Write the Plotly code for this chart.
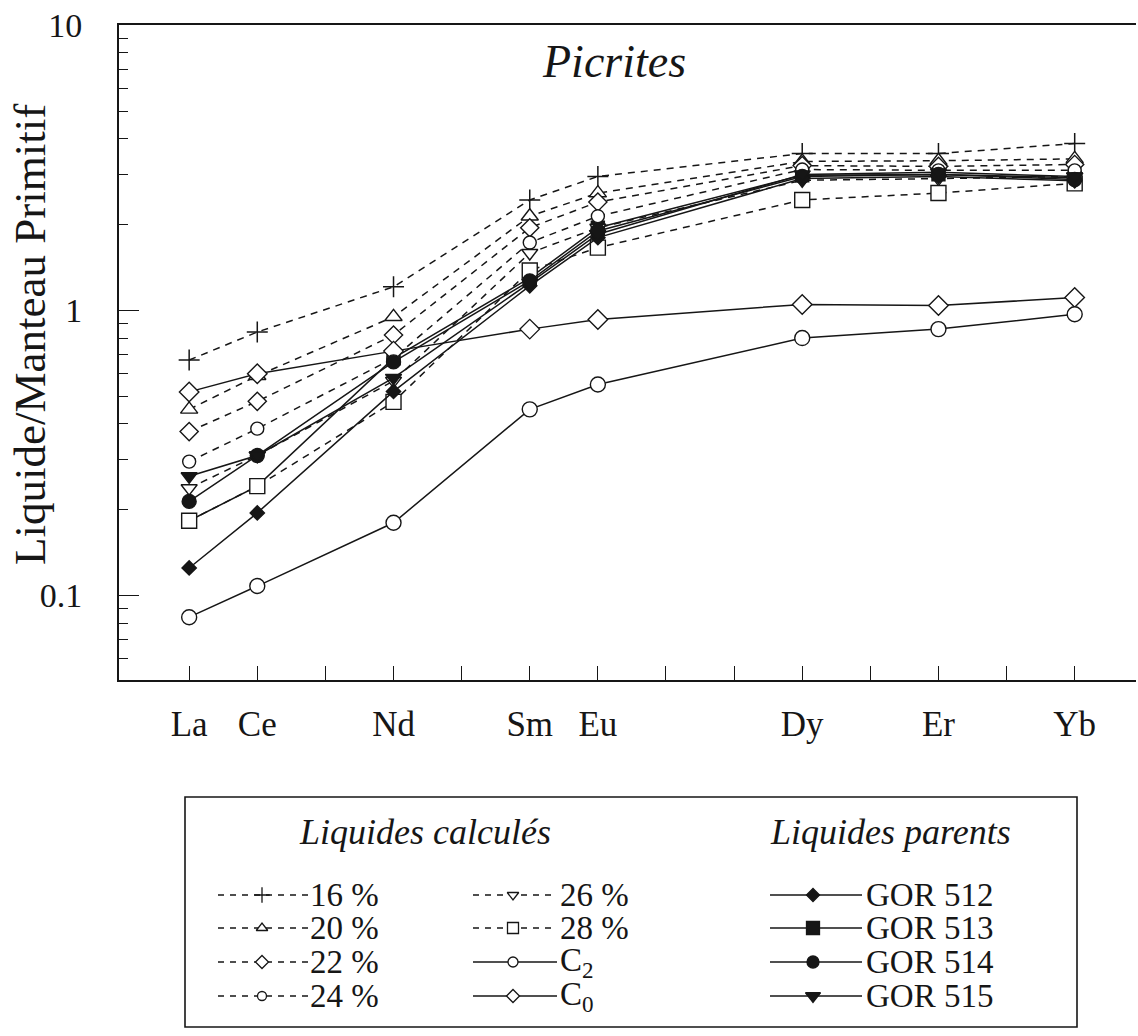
import plotly.graph_objects as go

# ---------------- data ----------------
ree_all = ["La", "Ce", "Pr", "Nd", "Pm", "Sm", "Eu", "Gd", "Tb", "Dy", "Ho", "Er", "Tm", "Yb"]
elements = ["La", "Ce", "Nd", "Sm", "Eu", "Dy", "Er", "Yb"]

calc_16 = [0.67, 0.84, 1.21, 2.44, 2.95, 3.55, 3.55, 3.85]
calc_20 = [0.45, 0.59, 0.95, 2.14, 2.58, 3.33, 3.35, 3.40]
calc_22 = [0.376, 0.48, 0.82, 1.95, 2.40, 3.22, 3.20, 3.25]
calc_24 = [0.295, 0.385, 0.68, 1.73, 2.14, 3.12, 3.10, 3.10]
calc_26 = [0.238, 0.31, 0.566, 1.59, 1.95, 2.86, 2.90, 2.95]
calc_28 = [0.183, 0.242, 0.478, 1.38, 1.66, 2.44, 2.58, 2.79]
c2 = [0.084, 0.108, 0.18, 0.45, 0.55, 0.80, 0.86, 0.97]
c0 = [0.518, 0.60, 0.72, 0.86, 0.93, 1.05, 1.04, 1.11]
gor512 = [0.125, 0.195, 0.52, 1.22, 1.80, 2.90, 2.95, 2.85]
gor513 = [0.183, 0.242, 0.68, 1.30, 1.95, 2.98, 3.00, 2.92]
gor514 = [0.214, 0.31, 0.66, 1.27, 1.90, 2.95, 3.00, 2.88]
gor515 = [0.262, 0.31, 0.58, 1.25, 1.85, 3.00, 3.05, 2.95]

y_major = [0.1, 1, 10]
y_major_text = ["0.1", "1", "10"]

legend_calc = ["16 %", "20 %", "22 %", "24 %", "26 %", "28 %", "C<sub>2</sub>", "C<sub>0</sub>"]
legend_parent = ["GOR 512", "GOR 513", "GOR 514", "GOR 515"]

# ---------------- geometry helpers ----------------
W, H = 1138, 1036
L, R, T, B = 119, 1136, 25, 1034


def xd(px):
    return (px - L) / (R - L)


def yd(py):
    return (B - py) / (B - T)


xpos = [ree_all.index(e) for e in elements]
other_pos = [i for i, e in enumerate(ree_all) if e not in elements]
INK = "#161616"
FONT = "Liberation Serif"
DASH = "7px,6px"

fig = go.Figure()


def add_series(vals, symbol, size, fill, dashed, lw=1.5, mlw=1.4):
    fig.add_trace(go.Scatter(
        x=xpos, y=vals, mode="lines+markers", showlegend=False,
        line=dict(color=INK, width=lw, dash=DASH if dashed else "solid"),
        marker=dict(symbol=symbol, size=size, color=fill,
                    line=dict(color=INK, width=mlw)),
        xaxis="x", yaxis="y"))


# parent liquid drawn below
add_series(gor513, "square", 13, INK, False)
# calculated liquids
add_series(calc_16, "cross-thin-open", 15, INK, True, mlw=1.5)
add_series(calc_20, "triangle-up", 15, "white", True)
add_series(calc_22, "diamond", 14, "white", True)
add_series(calc_24, "circle", 13, "white", True)
add_series(calc_26, "triangle-down", 14, "white", True)
add_series(calc_28, "square", 15, "white", True)
add_series(c0, "diamond", 15, "white", False)
add_series(c2, "circle", 15, "white", False)
add_series(gor512, "diamond", 11, INK, False)
add_series(gor514, "circle", 14, INK, False)
add_series(gor515, "triangle-down", 14, INK, False)

# ---------------- legend (drawn on an auxiliary pixel-scaled axis) ----------------
LX0, LX1, LY0, LY1 = 170, 1095, 780, 1034
LEG_FS = 33


def leg_entry(x0, xm, x1, y, symbol, size, fill, dashed, text, tx):
    fig.add_trace(go.Scatter(
        x=[x0, x1], y=[y, y], mode="lines", showlegend=False, hoverinfo="skip",
        line=dict(color=INK, width=1.3, dash="6px,6px" if dashed else "solid"),
        xaxis="x2", yaxis="y2"))
    fig.add_trace(go.Scatter(
        x=[xm], y=[y], mode="markers", showlegend=False, hoverinfo="skip",
        marker=dict(symbol=symbol, size=size, color=fill, line=dict(color=INK, width=1.3)),
        xaxis="x2", yaxis="y2"))
    fig.add_annotation(x=tx, y=y, xref="x2", yref="y2", text=text, showarrow=False,
                       xanchor="left", yanchor="middle",
                       font=dict(family=FONT, size=LEG_FS, color=INK))


rows = [895, 928, 962, 996]
col1 = [("cross-thin-open", 11, INK), ("triangle-up", 10, "white"),
        ("diamond", 10, "white"), ("circle", 9, "white")]
for i, (sym, sz, fill) in enumerate(col1):
    leg_entry(218, 262, 308, rows[i], sym, sz, fill, True, legend_calc[i], 308)
col2 = [("triangle-down", 10, "white", True), ("square", 11, "white", True),
        ("circle", 10, "white", False), ("diamond", 10, "white", False)]
for i, (sym, sz, fill, dsh) in enumerate(col2):
    leg_entry(473, 513, 557, rows[i], sym, sz, fill, dsh, legend_calc[4 + i], 558)
col3 = [("diamond", 10, INK), ("square", 13, INK), ("circle", 12, INK), ("triangle-down", 13, INK)]
for i, (sym, sz, fill) in enumerate(col3):
    leg_entry(770, 813, 862, rows[i], sym, sz, fill, False, legend_parent[i], 864)

fig.add_shape(type="rect", x0=185, x1=1077, y0=797, y1=1027, xref="x2", yref="y2",
              line=dict(color=INK, width=1.6), fillcolor="rgba(0,0,0,0)")
fig.add_annotation(x=425, y=832, xref="x2", yref="y2", text="<i>Liquides calculés</i>",
                   showarrow=False, xanchor="center", yanchor="middle",
                   font=dict(family=FONT, size=36, color=INK))
fig.add_annotation(x=890, y=832, xref="x2", yref="y2", text="<i>Liquides parents</i>",
                   showarrow=False, xanchor="center", yanchor="middle",
                   font=dict(family=FONT, size=36, color=INK))

# chart title inside plot
fig.add_annotation(x=xd(614), y=yd(62), xref="paper", yref="paper", text="<i>Picrites</i>",
                   showarrow=False, xanchor="center", yanchor="middle",
                   font=dict(family=FONT, size=46, color=INK))

# y-axis title
fig.add_annotation(x=xd(30), y=yd(335), xref="paper", yref="paper",
                   text="Liquide/Manteau Primitif", textangle=-90, showarrow=False,
                   xanchor="center", yanchor="middle",
                   font=dict(family=FONT, size=45, color=INK))

minor_vals = [m * d for d in (0.01, 0.1, 1) for m in range(2, 10)]

fig.update_layout(
    width=W, height=H,
    margin=dict(l=L, r=W - R, t=T, b=H - B, pad=0),
    paper_bgcolor="white", plot_bgcolor="rgba(0,0,0,0)",
    showlegend=False,
    xaxis=dict(domain=[0, 1], range=[-1.03, 13.9], showgrid=False, zeroline=False,
               showline=True, linecolor=INK, linewidth=2, mirror=True,
               tickmode="array", tickvals=xpos, ticktext=elements,
               ticks="inside", ticklen=14, tickwidth=1.3, tickcolor=INK,
               minor=dict(tickmode="array", tickvals=other_pos, ticks="inside",
                          ticklen=14, tickwidth=1.3, tickcolor=INK, showgrid=False),
               ticklabelstandoff=12,
               tickfont=dict(family=FONT, size=35, color=INK), anchor="y"),
    yaxis=dict(domain=[yd(680), 1], type="log", range=[-1.296, 1.001],
               showgrid=False, zeroline=False, showline=True, linecolor=INK, linewidth=2,
               tickmode="array", tickvals=y_major, ticktext=y_major_text,
               ticks="inside", ticklen=20, tickwidth=1.3, tickcolor=INK,
               ticklabelstandoff=28,
               minor=dict(tickmode="array", tickvals=minor_vals, ticks="inside",
                          ticklen=9, tickwidth=1.1, tickcolor=INK, showgrid=False),
               tickfont=dict(family=FONT, size=34, color=INK),
               anchor="x"),
    xaxis2=dict(domain=[xd(LX0), xd(LX1)], range=[LX0, LX1], visible=False,
                anchor="y2", fixedrange=True),
    yaxis2=dict(domain=[0, yd(LY0)], range=[LY1, LY0], visible=False,
                anchor="x2", fixedrange=True),
)

fig.write_html("out.html", config={"displayModeBar": False},
               post_script="document.body.style.margin='0';document.body.style.padding='0';")
